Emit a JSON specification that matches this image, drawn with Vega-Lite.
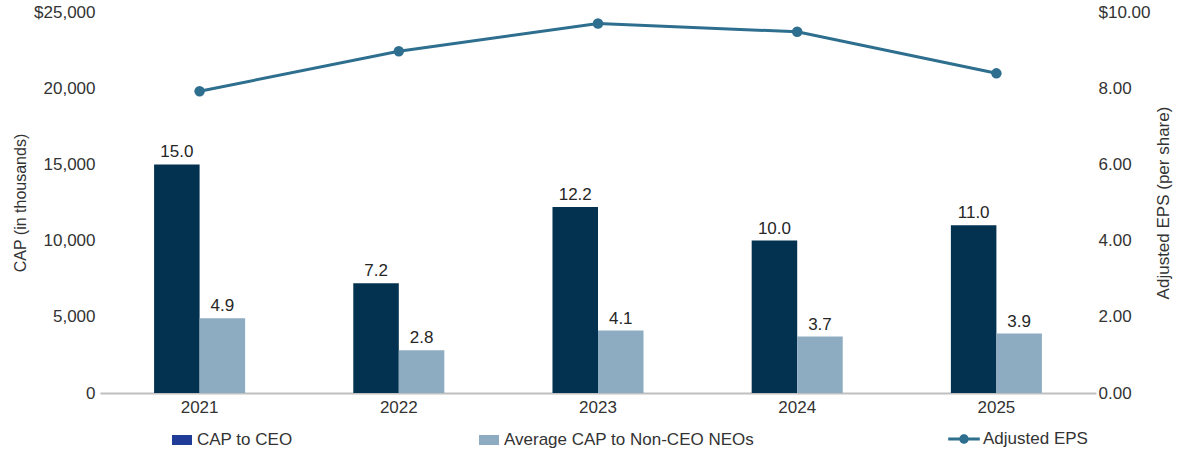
{
  "$schema": "https://vega.github.io/schema/vega-lite/v6.json",
  "autosize": {"type": "none"},
  "width": 996,
  "height": 381,
  "padding": {"left": 100, "top": 12, "right": 84, "bottom": 59},
  "background": "white",
  "config": {
    "view": {"stroke": null},
    "font": "Liberation Sans",
    "axis": {"labelFont": "Liberation Sans", "titleFont": "Liberation Sans", "labelColor": "#333333", "titleColor": "#333333", "titleFontWeight": "normal"},
    "legend": {"labelFont": "Liberation Sans", "labelColor": "#333333"}
  },
  "datasets": {
    "cap": [
      {"year": "2021", "series": "CAP to CEO", "value": 15.0},
      {"year": "2021", "series": "Average CAP to Non-CEO NEOs", "value": 4.9},
      {"year": "2022", "series": "CAP to CEO", "value": 7.2},
      {"year": "2022", "series": "Average CAP to Non-CEO NEOs", "value": 2.8},
      {"year": "2023", "series": "CAP to CEO", "value": 12.2},
      {"year": "2023", "series": "Average CAP to Non-CEO NEOs", "value": 4.1},
      {"year": "2024", "series": "CAP to CEO", "value": 10.0},
      {"year": "2024", "series": "Average CAP to Non-CEO NEOs", "value": 3.7},
      {"year": "2025", "series": "CAP to CEO", "value": 11.0},
      {"year": "2025", "series": "Average CAP to Non-CEO NEOs", "value": 3.9}
    ],
    "eps": [
      {"year": "2021", "series": "Adjusted EPS", "eps": 7.92},
      {"year": "2022", "series": "Adjusted EPS", "eps": 8.97},
      {"year": "2023", "series": "Adjusted EPS", "eps": 9.70},
      {"year": "2024", "series": "Adjusted EPS", "eps": 9.48},
      {"year": "2025", "series": "Adjusted EPS", "eps": 8.39}
    ]
  },
  "encoding": {
    "x": {
      "field": "year",
      "type": "nominal",
      "scale": {"paddingInner": 0.543, "paddingOuter": 0.2715},
      "axis": {
        "title": null,
        "labelAngle": 0,
        "labelFontSize": 17,
        "labelPadding": 6,
        "ticks": false,
        "domain": true,
        "domainColor": "#bfbfbf",
        "domainWidth": 2
      }
    }
  },
  "layer": [
    {
      "data": {"name": "cap"},
      "encoding": {
        "xOffset": {"field": "series", "type": "nominal", "scale": {"domain": ["CAP to CEO", "Average CAP to Non-CEO NEOs"], "paddingInner": 0, "paddingOuter": 0}},
        "y": {
          "field": "value",
          "type": "quantitative",
          "scale": {"domain": [0, 25], "nice": false},
          "axis": {
            "orient": "left",
            "title": "CAP (in thousands)",
            "titleFontSize": 16,
            "titlePadding": 5,
            "values": [0, 5, 10, 15, 20, 25],
            "labelExpr": "datum.value == 25 ? '$25,000' : format(datum.value * 1000, ',')",
            "labelFontSize": 17,
            "labelPadding": 5,
            "ticks": false,
            "domain": false,
            "grid": false
          }
        }
      },
      "layer": [
        {
          "mark": {"type": "bar"},
          "encoding": {
            "y": {"datum": 0},
            "color": {
              "field": "series",
              "type": "nominal",
              "scale": {"domain": ["CAP to CEO", "Average CAP to Non-CEO NEOs"], "range": ["#1f3d96", "#8eacc1"]},
              "legend": {
                "title": null,
                "orient": "none",
                "legendX": 72,
                "legendY": 418,
                "direction": "horizontal",
                "columnPadding": 186,
                "padding": 0,
                "symbolType": "M-1,-0.5L1,-0.5L1,0.5L-1,0.5Z",
                "symbolSize": 400,
                "symbolStrokeWidth": 0,
                "labelFontSize": 17,
                "labelOffset": 5,
                "labelLimit": 400
              }
            }
          }
        },
        {
          "mark": {"type": "bar"},
          "encoding": {
            "fill": {
              "field": "series",
              "type": "nominal",
              "scale": {"domain": ["CAP to CEO", "Average CAP to Non-CEO NEOs"], "range": ["#033150", "#8eacc1"]},
              "legend": null
            }
          }
        },
        {
          "mark": {"type": "text", "baseline": "alphabetic", "dy": -7, "fontSize": 17, "color": "#262626", "font": "Liberation Sans"},
          "encoding": {
            "text": {"field": "value", "type": "quantitative", "format": ".1f"}
          }
        }
      ]
    },
    {
      "data": {"name": "eps"},
      "encoding": {
        "y": {
          "field": "eps",
          "type": "quantitative",
          "scale": {"domain": [0, 10], "nice": false},
          "axis": {
            "orient": "right",
            "title": "Adjusted EPS (per share)",
            "titleFontSize": 17,
            "titleAngle": 270,
            "titlePadding": 23,
            "values": [0, 2, 4, 6, 8, 10],
            "labelExpr": "datum.value == 10 ? '$10.00' : format(datum.value, '.2f')",
            "labelFontSize": 17,
            "labelPadding": 2,
            "ticks": false,
            "domain": false,
            "grid": false
          }
        }
      },
      "layer": [
        {
          "mark": {"type": "line", "strokeWidth": 3},
          "encoding": {
            "stroke": {
              "field": "series",
              "type": "nominal",
              "scale": {"domain": ["Adjusted EPS"], "range": ["#2e6e8e"]},
              "legend": {
                "title": null,
                "orient": "none",
                "legendX": 848,
                "legendY": 411,
                "padding": 0,
                "symbolType": "M-1,-0.09L1,-0.09L1,0.09L-1,0.09Z M-0.3,0A0.3,0.3,0,1,1,0.3,0A0.3,0.3,0,1,1,-0.3,0Z",
                "symbolSize": 1000,
                "labelFontSize": 17,
                "labelOffset": 3,
                "labelLimit": 400,
                "encode": {
                  "symbols": {"update": {"fill": {"value": "#2e6e8e"}, "strokeWidth": {"value": 0}}}
                }
              }
            }
          }
        },
        {
          "mark": {"type": "point", "filled": true, "size": 110, "color": "#2e6e8e", "opacity": 1},
          "encoding": {}
        }
      ]
    }
  ],
  "resolve": {"scale": {"y": "independent", "x": "shared"}}
}
